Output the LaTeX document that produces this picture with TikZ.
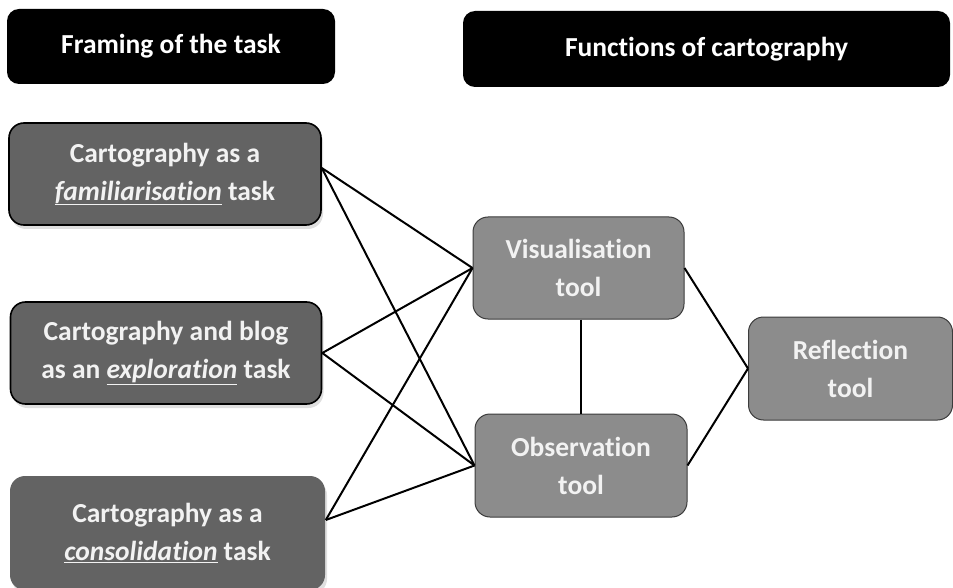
\documentclass[tikz,border=0pt]{standalone}
\usepackage{fontspec}
\setmainfont[Ligatures=NoCommon]{Carlito}
\usetikzlibrary{shadows,calc}
\definecolor{darkbox}{RGB}{99,99,99}
\definecolor{midbox}{RGB}{140,140,140}
\definecolor{boxtext}{RGB}{242,242,242}
\definecolor{midborder}{RGB}{60,60,60}
\begin{document}
\begin{tikzpicture}[x=1pt,y=-1pt,
  hdr/.style={fill=black, rounded corners=12pt, text=white, align=center,
    font=\bfseries\fontsize{27.5}{33}\selectfont, inner sep=0pt},
  leftbox/.style={fill=darkbox, draw=black, line width=1.6pt, rounded corners=15pt,
    text=boxtext, align=center, inner sep=0pt,
    font=\bfseries\fontsize{27.5}{38}\selectfont,
    drop shadow={opacity=0.25, shadow xshift=2pt, shadow yshift=-4pt}},
  midbox/.style={fill=midbox, draw=midborder, line width=1pt, rounded corners=15pt,
    text=boxtext, align=center, inner sep=0pt,
    font=\bfseries\fontsize{27.5}{38}\selectfont},
  link/.style={draw=black, line width=2pt}
]
\useasboundingbox (0,0) rectangle (953,588);

\node[hdr, minimum width=328pt, minimum height=75pt] (framing) at (171,46.5) {Framing of the task};
\node[hdr, minimum width=487pt, minimum height=76pt] (functions) at (706.5,49) {Functions of cartography};

\node[leftbox, minimum width=312pt, minimum height=102pt] (fam) at (165,174)
  {Cartography as a\\\underline{\textit{familiarisation}} task};
\node[leftbox, minimum width=311pt, minimum height=102pt] (expl) at (166,353)
  {Cartography and blog\\as an \underline{\textit{exploration}} task};
\node[leftbox, draw=none, drop shadow={opacity=0}, minimum width=315pt, minimum height=114pt] (cons) at (167.5,533)
  {Cartography as a\\\underline{\textit{consolidation}} task};

\node[midbox, minimum width=211pt, minimum height=102pt] (vis) at (578.5,268)
  {Visualisation\\tool};
\node[midbox, minimum width=212pt, minimum height=103pt] (obs) at (581,465.5)
  {Observation\\tool};
\node[midbox, minimum width=204pt, minimum height=103pt] (refl) at (850.5,368.5)
  {Reflection\\tool};

\coordinate (famE) at ([yshift=6pt]fam.east);
\coordinate (consE) at ([yshift=13pt]cons.east);
\coordinate (midtop) at ([xshift=2pt]vis.south);

\draw[link] (famE) -- (vis.west);
\draw[link] (famE) -- (obs.west);
\draw[link] (expl.east) -- (vis.west);
\draw[link] (expl.east) -- (obs.west);
\draw[link] (consE) -- (vis.west);
\draw[link] (consE) -- (obs.west);
\draw[link] (midtop) -- (midtop |- obs.north);
\draw[link] (vis.east) -- (refl.west);
\draw[link] (obs.east) -- (refl.west);
\end{tikzpicture}
\end{document}
